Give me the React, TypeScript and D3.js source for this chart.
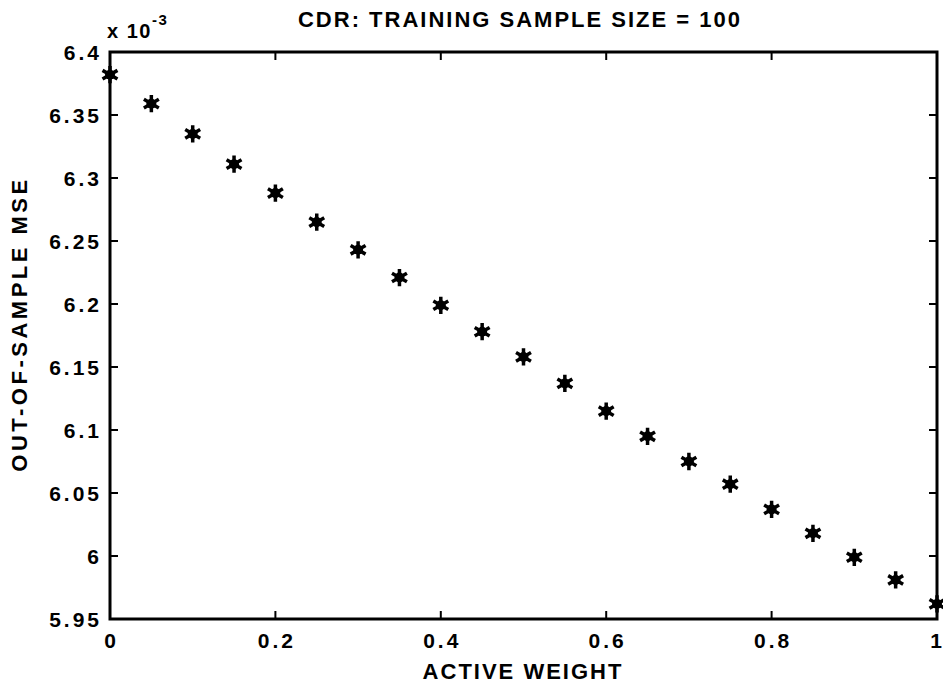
import React, { useEffect, useRef } from "react";
import * as d3 from "d3";

const activeWeight = [0, 0.05, 0.1, 0.15, 0.2, 0.25, 0.3, 0.35, 0.4, 0.45, 0.5, 0.55, 0.6, 0.65, 0.7, 0.75, 0.8, 0.85, 0.9, 0.95, 1.0];
const mseValues = [6.382, 6.359, 6.335, 6.311, 6.288, 6.265, 6.243, 6.221, 6.199, 6.178, 6.158, 6.137, 6.115, 6.095, 6.075, 6.057, 6.037, 6.018, 5.999, 5.981, 5.962];
const xTicks = [0, 0.2, 0.4, 0.6, 0.8, 1];
const yTicks = [5.95, 6, 6.05, 6.1, 6.15, 6.2, 6.25, 6.3, 6.35, 6.4];
const yTickLabels = ["5.95", "6", "6.05", "6.1", "6.15", "6.2", "6.25", "6.3", "6.35", "6.4"];
const xTickLabels = ["0", "0.2", "0.4", "0.6", "0.8", "1"];
const titleText = "CDR: TRAINING SAMPLE SIZE = 100";
const xLabel = "ACTIVE WEIGHT";
const yLabel = "OUT-OF-SAMPLE MSE";

const W = 943;
const H = 686;
const M = { left: 110, right: 937, top: 52, bottom: 619 };
const FONT = "'Liberation Sans', Arial, Helvetica, sans-serif";

export default function App() {
  const ref = useRef<SVGSVGElement | null>(null);

  useEffect(() => {
    const svg = d3.select(ref.current);
    svg.selectAll("*").remove();

    const x = d3.scaleLinear().domain([0, 1]).range([M.left, M.right]);
    const y = d3.scaleLinear().domain([5.95, 6.4]).range([M.bottom, M.top]);

    svg.append("rect").attr("width", W).attr("height", H).attr("fill", "#fff");

    const tickLen = 8;
    const g = svg.append("g").attr("stroke", "#000").attr("stroke-width", 2);

    xTicks.forEach((t) => {
      const px = x(t);
      g.append("line").attr("x1", px).attr("x2", px).attr("y1", M.bottom).attr("y2", M.bottom - tickLen);
      g.append("line").attr("x1", px).attr("x2", px).attr("y1", M.top).attr("y2", M.top + tickLen);
    });
    yTicks.forEach((t) => {
      const py = y(t);
      g.append("line").attr("x1", M.left).attr("x2", M.left + tickLen).attr("y1", py).attr("y2", py);
      g.append("line").attr("x1", M.right).attr("x2", M.right - tickLen).attr("y1", py).attr("y2", py);
    });

    svg.append("rect")
      .attr("x", M.left).attr("y", M.top)
      .attr("width", M.right - M.left).attr("height", M.bottom - M.top)
      .attr("fill", "none").attr("stroke", "#000").attr("stroke-width", 3);

    const txt = svg.append("g").attr("font-family", FONT).attr("font-weight", "bold").attr("fill", "#000");
    xTicks.forEach((t, i) => {
      const last = i === xTicks.length - 1;
      txt.append("text").attr("x", last ? W - 1 : x(t) + 1.5).attr("y", 648)
        .attr("text-anchor", last ? "end" : "middle").attr("font-size", 21)
        .attr("letter-spacing", last ? 0 : 3).text(xTickLabels[i]);
    });
    yTicks.forEach((t, i) => {
      txt.append("text").attr("x", 102).attr("y", y(t) + 7.5)
        .attr("text-anchor", "end").attr("font-size", 21).attr("letter-spacing", 3).text(yTickLabels[i]);
    });

    const ex = txt.append("text").attr("x", 107).attr("y", 38).attr("font-size", 20).attr("letter-spacing", 1.5);
    ex.append("tspan").text("x 10");
    ex.append("tspan").attr("dy", -13).attr("font-size", 15).text("-3");

    txt.append("text").attr("x", 520).attr("y", 27).attr("text-anchor", "middle")
      .attr("font-size", 22).attr("letter-spacing", 2).text(titleText);
    txt.append("text").attr("x", 523).attr("y", 679).attr("text-anchor", "middle")
      .attr("font-size", 22).attr("letter-spacing", 2).text(xLabel);
    txt.append("text").attr("transform", "translate(27,324) rotate(-90)").attr("text-anchor", "middle")
      .attr("font-size", 22).attr("letter-spacing", 3.5).text(yLabel);

    const sym = d3.symbol().type(d3.symbolAsterisk).size(210);
    const pts = svg.append("g");
    activeWeight.forEach((w, i) => {
      const gg = pts.append("g").attr("transform", `translate(${x(w)},${y(mseValues[i])})`);
      gg.append("path").attr("d", sym() as string).attr("fill", "none").attr("stroke", "#000").attr("stroke-width", 3.5);
      gg.append("circle").attr("r", 5).attr("fill", "#000");
    });
  }, []);

  return (
    <div style={{ position: "absolute", left: 0, top: 0 }}>
      <svg ref={ref} width={W} height={H} style={{ display: "block" }} />
    </div>
  );
}
